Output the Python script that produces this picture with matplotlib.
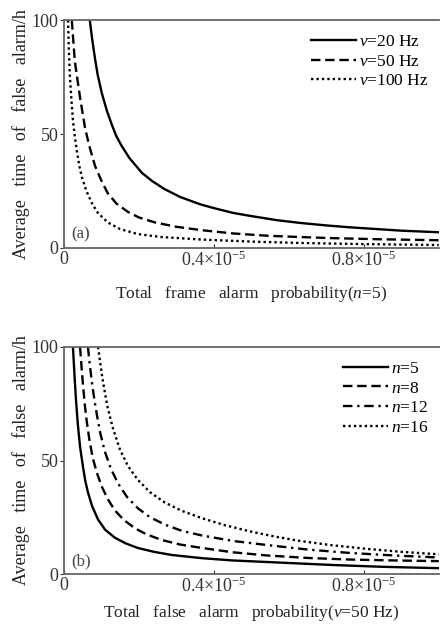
import matplotlib
matplotlib.use("Agg")
import matplotlib.pyplot as plt

plt.rcParams['font.family'] = ['Liberation Serif', 'DejaVu Serif']
plt.rcParams['mathtext.fontset'] = 'custom'
plt.rcParams['mathtext.rm'] = 'Liberation Serif'
plt.rcParams['mathtext.it'] = 'Liberation Serif:italic'

# (a) frame alarm probability in units of 1e-5, time in hours, n=5
p_v20 = [0.069, 0.075, 0.083, 0.09, 0.101, 0.115, 0.128, 0.14, 0.154, 0.175, 0.208, 0.235, 0.269,
         0.31, 0.363, 0.40, 0.451, 0.5, 0.568, 0.63, 0.7, 0.76, 0.825, 0.9, 1.0]
t_v20 = [100, 92, 83, 76, 68, 60, 54, 49, 44.8, 39.4, 33, 29.4, 25.8,
         22.4, 19.2, 17.5, 15.4, 14, 12.2, 11, 9.9, 9.1, 8.4, 7.6, 6.9]
p_v50 = [0.021, 0.025, 0.029, 0.036, 0.043, 0.05, 0.056, 0.063, 0.069, 0.076, 0.083, 0.1, 0.117,
         0.14, 0.171, 0.2, 0.243, 0.3, 0.368, 0.45, 0.54, 0.63, 0.72, 0.85, 1.0]
t_v50 = [100, 91, 82, 74, 66, 59, 53, 48, 44, 40, 36, 29.5, 24,
         19.5, 15.8, 13.4, 11.2, 9.3, 7.8, 6.4, 5.4, 4.8, 4.3, 3.8, 3.4]
p_v100 = [0.011, 0.013, 0.016, 0.02, 0.024, 0.029, 0.035, 0.041, 0.048, 0.06, 0.075, 0.09, 0.117,
          0.15, 0.197, 0.26, 0.368, 0.5, 0.63, 0.8, 1.0]
t_v100 = [100, 87, 75, 65, 56, 49, 42, 36, 31, 25, 19.5, 15.5, 11.2,
          8.3, 6.1, 4.8, 3.7, 2.8, 2.2, 1.7, 1.3]

# (b) total false alarm probability in units of 1e-5, v=50 Hz
p_n5 = [0.024, 0.028, 0.032, 0.037, 0.043, 0.051, 0.057, 0.064, 0.075, 0.091, 0.11, 0.136, 0.165,
        0.197, 0.24, 0.288, 0.368, 0.45, 0.584, 0.717, 0.85, 1.0]
t_n5 = [100, 88, 77, 66, 56, 47, 41, 36, 30, 24, 19.5, 16, 13.5,
        11.5, 9.8, 8.4, 7, 6, 5, 4, 3.2, 2.6]
p_n8 = [0.043, 0.047, 0.051, 0.056, 0.061, 0.068, 0.077, 0.088, 0.101, 0.117, 0.136, 0.16, 0.189,
        0.22, 0.261, 0.31, 0.368, 0.45, 0.541, 0.65, 0.763, 0.88, 1.0]
t_n8 = [100, 91, 83, 74, 67, 59, 51, 44.5, 38.5, 33, 28, 23.8, 20.2,
        17.5, 15, 13, 11.5, 9.6, 8.2, 7.1, 6.4, 6, 5.7]
p_n12 = [0.064, 0.069, 0.075, 0.081, 0.088, 0.097, 0.109, 0.125, 0.144, 0.168, 0.197, 0.23, 0.269,
         0.315, 0.368, 0.45, 0.541, 0.65, 0.763, 0.88, 1.0]
t_n12 = [100, 92, 84, 77, 70, 62, 54, 46.5, 40, 34, 29, 25, 21.8,
         19, 17, 14.6, 12.8, 10.8, 9.3, 8.2, 7.3]
p_n16 = [0.091, 0.096, 0.101, 0.108, 0.117, 0.131, 0.149, 0.171, 0.197, 0.23, 0.269, 0.315, 0.368,
         0.43, 0.496, 0.56, 0.629, 0.71, 0.808, 0.9, 1.0]
t_n16 = [100, 94, 88, 81, 73, 64, 55, 47.5, 41.5, 36, 31.5, 27.8, 24.6,
         21.5, 18.8, 16.6, 14.6, 12.8, 11.1, 9.8, 8.7]

x_ticks = [0, 0.4, 0.8]
x_ticklabels = ['0', r'$0.4{\times}10^{-5}$', r'$0.8{\times}10^{-5}$']
y_ticks = [0, 50, 100]

fig = plt.figure(figsize=(4.41, 6.24), dpi=100)
ax1 = fig.add_axes([0.145, 0.6026, 0.850, 0.365])
ax2 = fig.add_axes([0.145, 0.080, 0.850, 0.364])

ax1.plot(p_v20, t_v20, color='black', lw=1.7, ls='-', label=r'$v$=20 Hz')
ax1.plot(p_v50, t_v50, color='black', lw=1.7, ls=(0, (4, 2)), label=r'$v$=50 Hz')
ax1.plot(p_v100, t_v100, color='black', lw=1.7, ls=(0, (1, 1.3)), label=r'$v$=100 Hz')

ax2.plot(p_n5, t_n5, color='black', lw=1.7, ls='-', label=r'$n$=5')
ax2.plot(p_n8, t_n8, color='black', lw=1.7, ls=(0, (4, 2)), label=r'$n$=8')
ax2.plot(p_n12, t_n12, color='black', lw=1.7, ls=(0, (4, 2, 1, 2)), label=r'$n$=12')
ax2.plot(p_n16, t_n16, color='black', lw=1.7, ls=(0, (1, 1.3)), label=r'$n$=16')

xlabels = [r'Total   frame   alarm   probability($n$=5)',
           r'Total   false   alarm   probability($v$=50 Hz)']
for ax, panel, xl, lp in [(ax1, '(a)', xlabels[0], 10), (ax2, '(b)', xlabels[1], 5)]:
    ax.set_xlim(0, 1.0)
    ax.set_ylim(0, 100)
    ax.set_xticks(x_ticks)
    ax.set_xticklabels(x_ticklabels)
    ax.set_yticks(y_ticks)
    ax.tick_params(axis='x', direction='in', length=3, labelsize=13, pad=2, colors='#333333')
    ax.tick_params(axis='y', direction='out', length=3, labelsize=13, pad=1, colors='#333333')
    for s in ['left', 'bottom', 'top']:
        ax.spines[s].set_color('#666666')
        ax.spines[s].set_linewidth(1.3)
    ax.spines['right'].set_visible(False)
    ax.set_xlabel(xl, fontsize=12.5, labelpad=lp, color='#222222')
    ax.set_ylabel('Average   time   of   false   alarm/h', fontsize=13, labelpad=1,
                  color='#222222')
    ax.text(0.02, 0.04, panel, transform=ax.transAxes, fontsize=12, color='#444444')
    ax.legend(loc='upper right', bbox_to_anchor=(1.0, 0.985), frameon=False,
              fontsize=12.5, handlelength=2.6, handletextpad=0.15, labelspacing=0.2,
              borderaxespad=0.2)

fig.savefig('out.png', dpi=100)
